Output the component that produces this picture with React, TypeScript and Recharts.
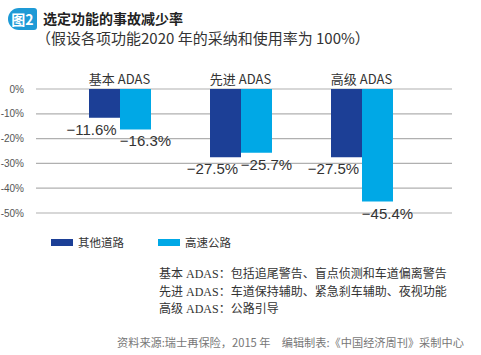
import { BarChart, Bar, XAxis, YAxis, CartesianGrid, Legend, LabelList } from 'recharts';

// 选定功能的事故减少率（%）
const categories = ['基本 ADAS', '先进 ADAS', '高级 ADAS'];
const otherRoads = [-11.6, -27.5, -27.5];
const highways = [-16.3, -25.7, -45.4];
const yTicks = [0, -10, -20, -30, -40, -50];

const noteLines = [
  '基本 ADAS：包括追尾警告、盲点侦测和车道偏离警告',
  '先进 ADAS：车道保持辅助、紧急刹车辅助、夜视功能',
  '高级 ADAS：公路引导',
];
const sourceText = '资料来源:瑞士再保险，2015 年　编辑制表:《中国经济周刊》采制中心';

const DARK = '#1c3f96';
const LIGHT = '#00a8e6';
const SANS = '"Noto Sans CJK SC", "Liberation Sans", sans-serif';

const data = categories.map((name, i) => ({
  name,
  other: otherRoads[i],
  highway: highways[i],
}));

const fmt = (v: number) => `−${Math.abs(v).toFixed(1)}%`;

// value label under the bar end, nudged sideways like the original
const valueLabel = (dx: number) => (props: any) => {
  const x = Number(props.x);
  const y = Number(props.y);
  const w = Number(props.width);
  const h = Number(props.height);
  const bottom = Math.max(y, y + h);
  return (
    <text
      x={x + w / 2 + dx}
      y={bottom + 17}
      textAnchor="middle"
      fontSize={15}
      fontFamily='"Liberation Sans", Arial, sans-serif'
      fill="#333"
    >
      {fmt(Number(props.value))}
    </text>
  );
};

const CategoryTick = (props: any) => (
  <text x={props.x} y={84} textAnchor="middle" fontSize={13} fontFamily={SANS} fill="#333">
    {props.payload.value}
  </text>
);

const LegendContent = (props: any) => (
  <div style={{ display: 'flex', alignItems: 'center', fontFamily: SANS, fontSize: 11.5, color: '#333' }}>
    {(props.payload || []).map((entry: any) => (
      <div key={entry.value} style={{ display: 'flex', alignItems: 'center', marginRight: 34 }}>
        <span style={{ width: 22, height: 7, background: entry.color, marginRight: 5, display: 'inline-block' }} />
        <span style={{ lineHeight: '16px' }}>{entry.value}</span>
      </div>
    ))}
  </div>
);

export default function App() {
  return (
    <div style={{ position: 'absolute', left: 0, top: 0, width: 481, height: 355, background: '#fff', fontFamily: SANS }}>
      <div style={{ position: 'absolute', left: 8, top: 8, height: 22, width: 29, background: '#1e9ad6', borderRadius: '11px 3px 3px 11px', color: '#fff', fontWeight: 700, fontSize: 14, lineHeight: '22px', textAlign: 'center' }}>
        图2
      </div>
      <div style={{ position: 'absolute', left: 43, top: 9, fontSize: 14, fontWeight: 700, color: '#222', lineHeight: '18px' }}>
        选定功能的事故减少率
      </div>
      <div style={{ position: 'absolute', left: 36, top: 28, fontSize: 15, color: '#333', lineHeight: '20px', whiteSpace: 'nowrap' }}>
        （假设各项功能2020 年的采纳和使用率为 100%）
      </div>

      <BarChart
        width={481}
        height={355}
        data={data}
        margin={{ top: 69, right: 29, bottom: 142, left: 0 }}
        barSize={31}
        barGap={0}
      >
        <CartesianGrid vertical={false} stroke="#b0b0b0" strokeWidth={1.2} />
        <XAxis
          dataKey="name"
          orientation="top"
          height={20}
          axisLine={false}
          tickLine={false}
          padding={{ left: 23, right: 30 }}
          tick={<CategoryTick />}
        />
        <YAxis
          width={36}
          domain={[-50, 0]}
          ticks={yTicks}
          axisLine={false}
          tickLine={false}
          tickMargin={6}
          tickFormatter={(v: number) => `${v}%`}
          tick={{ fontSize: 10, fill: '#555', fontFamily: '"Liberation Sans", Arial, sans-serif' }}
        />
        <Legend
          layout="vertical"
          align="center"
          verticalAlign="middle"
          wrapperStyle={{ left: 51, top: 234, width: 320, height: 16 }}
          content={<LegendContent />}
        />
        <Bar dataKey="other" name="其他道路" fill={DARK} isAnimationActive={false}>
          <LabelList dataKey="other" content={valueLabel(-13)} />
        </Bar>
        <Bar dataKey="highway" name="高速公路" fill={LIGHT} isAnimationActive={false}>
          <LabelList dataKey="highway" content={valueLabel(10)} />
        </Bar>
      </BarChart>

      <div style={{ position: 'absolute', left: 159, top: 266, fontSize: 12, color: '#333', lineHeight: '17.5px', whiteSpace: 'nowrap', fontFamily: '"Liberation Serif", "Noto Sans CJK SC", serif' }}>
        {noteLines.map((l) => (
          <div key={l}>{l}</div>
        ))}
      </div>
      <div style={{ position: 'absolute', left: 117, top: 334, fontSize: 11.2, color: '#777', lineHeight: '16px', whiteSpace: 'nowrap' }}>
        {sourceText}
      </div>
    </div>
  );
}
